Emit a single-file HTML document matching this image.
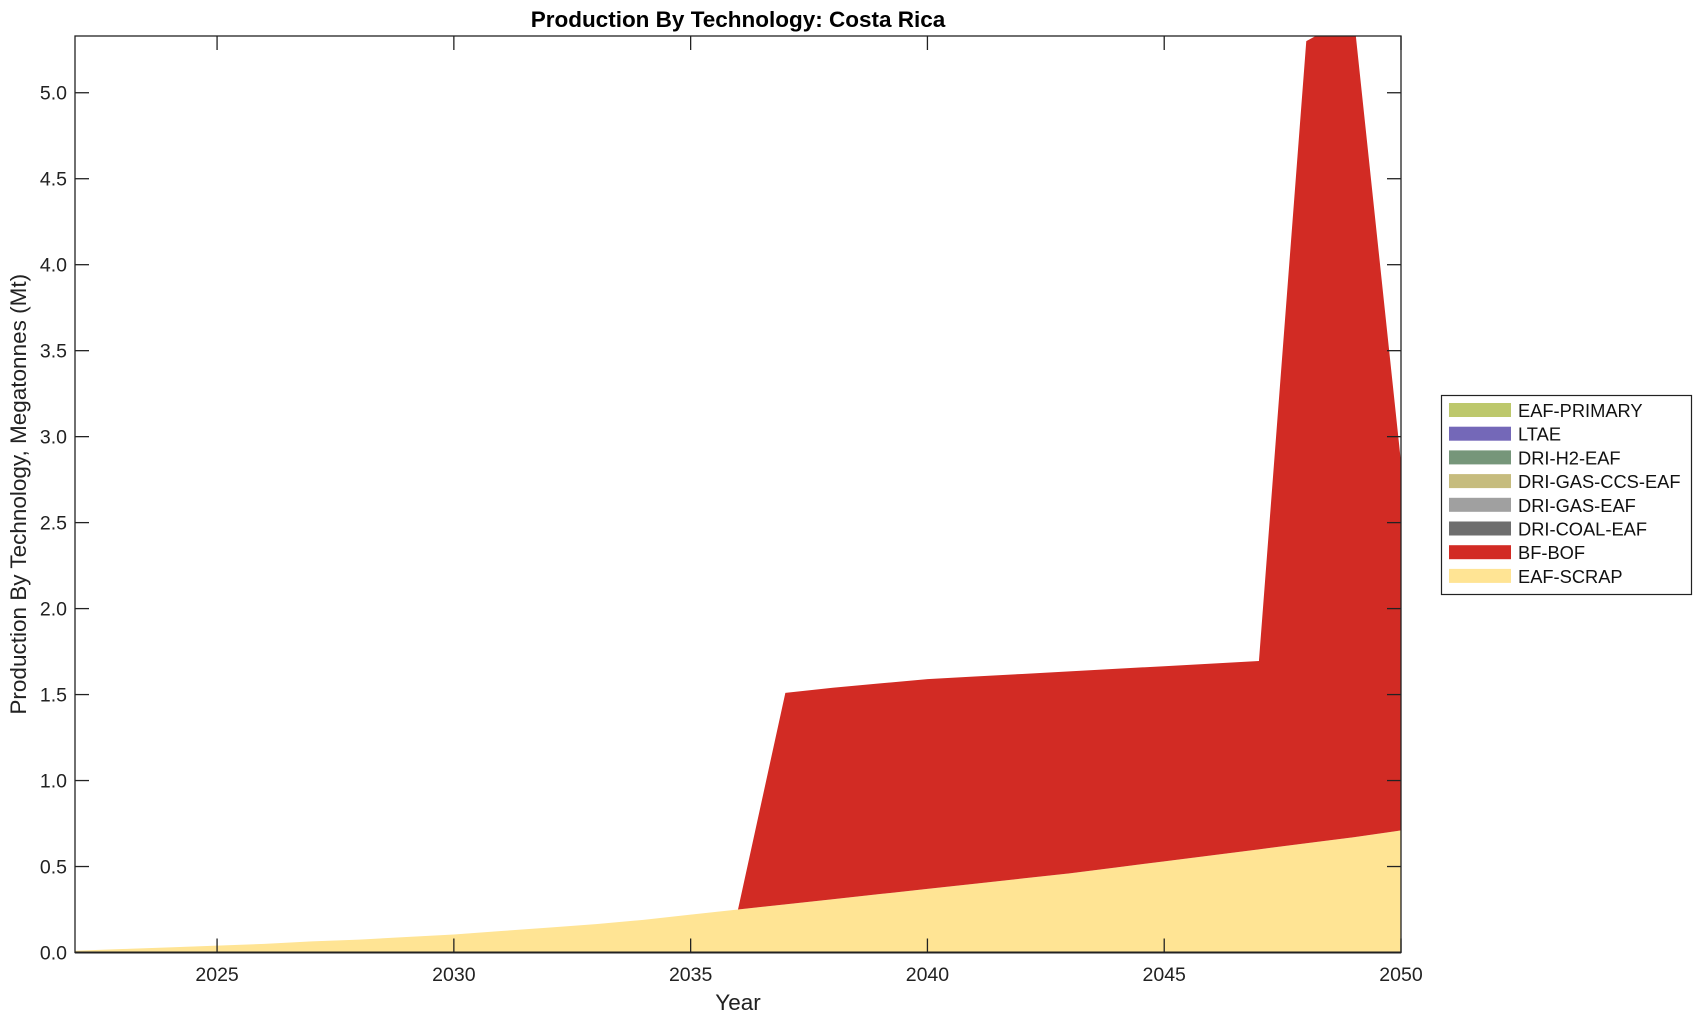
<!DOCTYPE html>
<html><head><meta charset="utf-8"><style>
body{margin:0;background:#fff;}
svg{display:block;font-family:"Liberation Sans",Arial,sans-serif;}
</style></head><body>
<svg id="chart" width="1703" height="1021" viewBox="0 0 1703 1021"></svg>
<script>
const years=[2022,2023,2024,2025,2026,2027,2028,2029,2030,2031,2032,2033,2034,2035,2036,2037,2038,2039,2040,2041,2042,2043,2044,2045,2046,2047,2048,2049,2050];
const eafScrap=[0.01,0.02,0.03,0.04,0.05,0.065,0.075,0.09,0.105,0.125,0.145,0.165,0.19,0.22,0.25,0.28,0.31,0.34,0.37,0.40,0.43,0.46,0.495,0.53,0.565,0.60,0.635,0.67,0.71];
const bfBof=[0,0,0,0,0,0,0,0,0,0,0,0,0,0,0,1.23,1.23,1.225,1.22,1.205,1.19,1.175,1.155,1.135,1.115,1.095,4.665,4.78,2.14];
const xTicks=[2025,2030,2035,2040,2045,2050];
const yTicks=[0,0.5,1,1.5,2,2.5,3,3.5,4,4.5,5];
const yTickLabels=["0.0","0.5","1.0","1.5","2.0","2.5","3.0","3.5","4.0","4.5","5.0"];
const legendNames=["EAF-PRIMARY","LTAE","DRI-H2-EAF","DRI-GAS-CCS-EAF","DRI-GAS-EAF","DRI-COAL-EAF","BF-BOF","EAF-SCRAP"];
const legendColors=["#bdc86c","#7468b8","#76967a","#c6bc7e","#a0a0a0","#6e6e6e","#d22b24","#ffe494"];

const L=75,R=1401,T=36,B=952.5,xmin=2022,xmax=2050,ymin=0,ymax=5.33;
const X=v=>L+(v-xmin)/(xmax-xmin)*(R-L);
const Y=v=>B-(v-ymin)/(ymax-ymin)*(B-T);
const svg=document.getElementById('chart');
const NS='http://www.w3.org/2000/svg';
function mk(tag,attrs,parent){const e=document.createElementNS(NS,tag);for(const k in attrs)e.setAttribute(k,attrs[k]);(parent||svg).appendChild(e);return e;}

const defs=mk('defs',{});
const cp=mk('clipPath',{id:'clip'},defs);
mk('rect',{x:L,y:T,width:R-L,height:B-T},cp);
const g=mk('g',{'clip-path':'url(#clip)'});



function area(lower,upper,color,name){
  let d='M'+X(years[0])+','+Y(lower[0]);
  for(let i=0;i<years.length;i++)d+='L'+X(years[i])+','+Y(upper[i]);
  for(let i=years.length-1;i>=0;i--)d+='L'+X(years[i])+','+Y(lower[i]);
  const p=mk('path',{d:d+'Z',fill:color},g);
  
  
}
const zero=years.map(()=>0);
area(zero,eafScrap,'#ffe494','area-eaf-scrap');
const top2=eafScrap.map((v,i)=>v+bfBof[i]);
(function(){
  const idx=[];for(let i=0;i<years.length;i++){if(bfBof[i]>0||(i+1<years.length&&bfBof[i+1]>0))idx.push(i);}
  let d='M'+X(years[idx[0]])+','+Y(eafScrap[idx[0]]);
  idx.forEach(i=>{d+='L'+X(years[i])+','+Y(top2[i]);});
  for(let k=idx.length-1;k>=0;k--){const i=idx[k];d+='L'+X(years[i])+','+Y(eafScrap[i]);}
  const p=mk('path',{d:d+'Z',fill:'#d22b24'},g);
  
  
})();

const ax=mk('g',{stroke:'#222','stroke-width':1.3,fill:'none'});


mk('rect',{x:L,y:T,width:R-L,height:B-T},ax);
mk('line',{x1:L,y1:B,x2:R,y2:B,'stroke-width':2},ax);
xTicks.forEach(t=>{
  mk('line',{x1:X(t),y1:B,x2:X(t),y2:B-14},ax);
  mk('line',{x1:X(t),y1:T,x2:X(t),y2:T+14},ax);
  const tx=mk('text',{x:X(t),y:981,'text-anchor':'middle','font-size':19.5,fill:'#222'});
  
  
  tx.textContent=t;
});
yTicks.forEach((t,i)=>{
  mk('line',{x1:L,y1:Y(t),x2:L+14,y2:Y(t)},ax);
  mk('line',{x1:R,y1:Y(t),x2:R-14,y2:Y(t)},ax);
  const tx=mk('text',{x:L-8,y:Y(t)+7,'text-anchor':'end','font-size':19.5,fill:'#222'});
  
  
  tx.textContent=yTickLabels[i];
});
const title=mk('text',{x:(L+R)/2,y:27,'text-anchor':'middle','font-size':22.5,'font-weight':'bold',fill:'#000'});


title.textContent='Production By Technology: Costa Rica';
const xl=mk('text',{x:(L+R)/2,y:1010,'text-anchor':'middle','font-size':22.5,fill:'#222'});


xl.textContent='Year';
const yl=mk('text',{x:0,y:0,'text-anchor':'middle','font-size':22.5,fill:'#222',transform:'translate(26,'+((T+B)/2)+') rotate(-90)'});


yl.textContent='Production By Technology, Megatonnes (Mt)';

const lg=mk('g',{});


mk('rect',{x:1441.5,y:395.5,width:250,height:199,fill:'#fff',stroke:'#222','stroke-width':1.2},lg);
legendNames.forEach((n,i)=>{
  const y=403+i*23.7;
  const e=mk('g',{},lg);
  
  
  mk('rect',{x:1449,y:y,width:62,height:14,fill:legendColors[i]},e);
  const t=mk('text',{x:1518,y:y+14,'font-size':18.3,fill:'#111'},e);
  t.textContent=n;
});
</script>
</body></html>
